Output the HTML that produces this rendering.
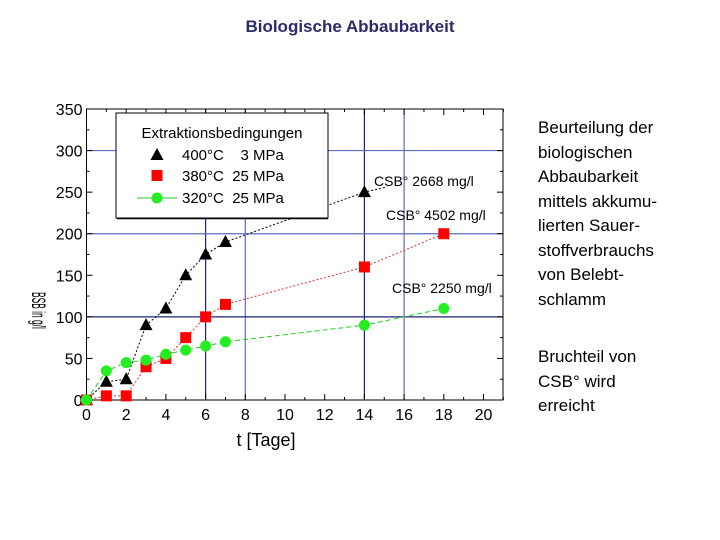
<!DOCTYPE html>
<html><head><meta charset="utf-8"><style>
body{margin:0;width:720px;height:540px;background:#fff;overflow:hidden;font-family:"Liberation Sans",sans-serif;}
.t{position:absolute;}
</style></head><body>
<div class="t" style="left:0;width:700px;top:17px;text-align:center;font-size:17px;font-weight:bold;color:#2b2b6b;">Biologische Abbaubarkeit</div>
<div class="t" style="left:538px;top:116px;font-size:17px;line-height:24.5px;color:#000;">Beurteilung der<br>biologischen<br>Abbaubarkeit<br>mittels akkumu-<br>lierten Sauer-<br>stoffverbrauchs<br>von Belebt-<br>schlamm</div>
<div class="t" style="left:538px;top:345px;font-size:17px;line-height:24.5px;color:#000;">Bruchteil von<br>CSB° wird<br>erreicht</div>
<svg id="chart" width="720" height="540" style="position:absolute;left:0;top:0" xmlns="http://www.w3.org/2000/svg"></svg>
<script>
const xTicks=[0,2,4,6,8,10,12,14,16,18,20];
const yTicks=[0,50,100,150,200,250,300,350];
const days=[0,1,2,3,4,5,6,7,14];
const s400=[0,22,25,90,110,150,175,190,250];
const days2=[0,1,2,3,4,5,6,7,14,18];
const s380=[0,5,5,40,50,75,100,115,160,200];
const s320=[0,35,45,48,55,60,65,70,90,110];
const vGrid=[6,8,14,16];
const hGrid=[100,200,300];
const NS='http://www.w3.org/2000/svg';
const svg=document.getElementById('chart');
const X=v=>86.5+v*19.85, Y=v=>400-v*0.8314;
function el(tag,attrs,parent){const e=document.createElementNS(NS,tag);for(const k in attrs)e.setAttribute(k,attrs[k]);(parent||svg).appendChild(e);return e;}
// grid
vGrid.forEach(v=>{const l=el('line',{x1:X(v),x2:X(v),y1:Y(350),y2:Y(0),stroke:(v==6||v==14)?'#1a237e':'#5c6bc0','stroke-width':1.2});

});
hGrid.forEach(v=>{const l=el('line',{x1:X(0),x2:503,y1:Y(v),y2:Y(v),stroke:v==100?'#1a237e':'#5c6bc0','stroke-width':1.2});

});
const fr=el('rect',{x:X(0),y:Y(350),width:503-X(0),height:Y(0)-Y(350),fill:'none',stroke:'#000','stroke-width':1});


// ticks
for(let d=0;d<=21;d++){const len=d%2==0?6:3;el('line',{x1:X(d),x2:X(d),y1:Y(0),y2:Y(0)-len,stroke:'#000'});el('line',{x1:X(d),x2:X(d),y1:Y(350),y2:Y(350)+len,stroke:'#000'});}
for(let v=0;v<=350;v+=25){const len=v%50==0?6:3;el('line',{x1:X(0),x2:X(0)+len,y1:Y(v),y2:Y(v),stroke:'#000'});el('line',{x1:503,x2:503-len,y1:Y(v),y2:Y(v),stroke:'#000'});}
xTicks.forEach(v=>{const t=el('text',{x:X(v),y:420,'text-anchor':'middle','font-size':16,fill:'#000'});t.textContent=v;

});
yTicks.forEach(v=>{const t=el('text',{x:X(0)-4,y:Y(v)+6,'text-anchor':'end','font-size':16,fill:'#000'});t.textContent=v;

});
const xt=el('text',{x:266,y:446,'text-anchor':'middle','font-size':18});xt.textContent='t [Tage]';


const yt=el('text',{x:0,y:0,'font-size':14,transform:'translate(32,292) rotate(90) scale(0.6,1.4)'});yt.textContent='BSB in g/l';


// series
function line(xs,ys,color,dash,name,extra){let pts=xs.map((d,i)=>X(d)+','+Y(ys[i]));if(extra)pts.push(extra);const p=el('polyline',{points:pts.join(' '),fill:'none',stroke:color,'stroke-width':1,'stroke-dasharray':dash});

}
line(days,s400,'#000','2,2','line-400c',(X(14)+22)+','+(Y(250)-5));
line(days2,s380,'#d33','2,2','line-380c');
line(days2,s320,'#2c2','5,3','line-320c');
days.forEach((d,i)=>{const x=X(d),y=Y(s400[i]);const p=el('polygon',{points:`${x},${y-7} ${x-6.5},${y+5} ${x+6.5},${y+5}`,fill:'#000'});

});
days2.forEach((d,i)=>{const r=el('rect',{x:X(d)-5.5,y:Y(s380[i])-5.5,width:11,height:11,fill:'#f00'});

});
days2.forEach((d,i)=>{const c=el('circle',{cx:X(d),cy:Y(s320[i]),r:5.5,fill:'#2e2'});

});
// annotations
[['CSB° 2668 mg/l',374,186],['CSB° 4502 mg/l',386,220],['CSB° 2250 mg/l',392,293]].forEach(a=>{const t=el('text',{x:a[1],y:a[2],'font-size':14});t.textContent=a[0];

});
// legend
const lg=el('g',{});


el('rect',{x:116,y:113,width:212,height:105,fill:'#fff',stroke:'#000','stroke-width':1},lg);
el('line',{x1:117,y1:218.5,x2:328,y2:218.5,stroke:'#000','stroke-width':1.5},lg);
const lt=el('text',{x:222,y:138,'text-anchor':'middle','font-size':15},lg);lt.textContent='Extraktionsbedingungen';
el('polygon',{points:'157,148 150.5,160 163.5,160',fill:'#000'},lg);
el('rect',{x:151.5,y:170,width:11,height:11,fill:'#f00'},lg);
el('line',{x1:137,x2:177,y1:198,y2:198,stroke:'#2c2'},lg);
el('circle',{cx:157,cy:198,r:5.5,fill:'#2e2'},lg);
[['400°C    3 MPa',160],['380°C  25 MPa',181],['320°C  25 MPa',203]].forEach(a=>{const t=el('text',{x:182,y:a[1],'font-size':15,'xml:space':'preserve'},lg);t.setAttribute('style','white-space:pre');t.textContent=a[0];

});
</script>
</body></html>
